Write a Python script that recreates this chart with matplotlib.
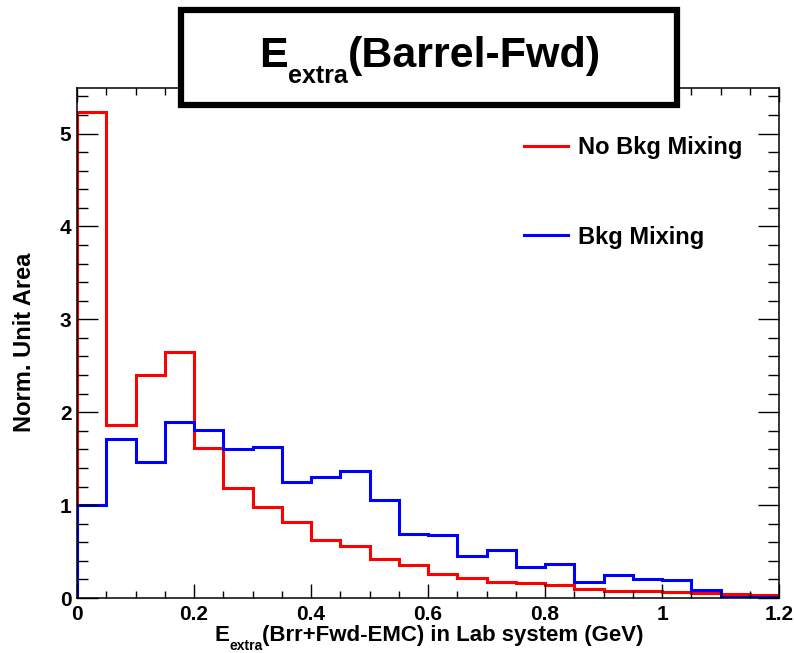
import numpy as np
import matplotlib
matplotlib.use('Agg')
import matplotlib.pyplot as plt
from matplotlib.patches import Rectangle
from matplotlib.ticker import MultipleLocator, FormatStrFormatter

plt.rcParams['font.family'] = 'Liberation Sans'
plt.rcParams['font.weight'] = 'bold'

W, H = 794, 653

# bin edges: 24 bins of 0.05 GeV
bin_edges = np.linspace(0.0, 1.2, 25)

# normalised contents
no_bkg_mixing = [5.23, 1.86, 2.40, 2.65, 1.61, 1.18, 0.98, 0.82, 0.62, 0.56,
                 0.42, 0.35, 0.26, 0.21, 0.17, 0.16, 0.14, 0.10, 0.075, 0.075,
                 0.06, 0.055, 0.04, 0.03]
bkg_mixing = [1.0, 1.71, 1.46, 1.89, 1.81, 1.60, 1.63, 1.25, 1.30, 1.37,
              1.06, 0.69, 0.68, 0.45, 0.52, 0.33, 0.37, 0.175, 0.245, 0.205,
              0.19, 0.09, 0.012, 0.012]

fig = plt.figure(figsize=(W / 100, H / 100), dpi=100)
ax = fig.add_axes([77 / W, 55 / H, 702 / W, 510 / H])

ax.stairs(no_bkg_mixing, bin_edges, color='#ff0000', lw=2.2, label='No Bkg Mixing')
ax.stairs(bkg_mixing, bin_edges, color='#0000ff', lw=2.2, label='Bkg Mixing')

ax.set_xlim(0, 1.2)
ax.set_ylim(0, 5.49)
ax.xaxis.set_major_locator(MultipleLocator(0.2))
ax.xaxis.set_minor_locator(MultipleLocator(0.05))
ax.yaxis.set_major_locator(MultipleLocator(1))
ax.yaxis.set_minor_locator(MultipleLocator(0.2))
ax.xaxis.set_major_formatter(FormatStrFormatter('%g'))
ax.tick_params(which='both', direction='in', top=True, right=True,
               labelsize=15, width=1.0)
ax.tick_params(axis='x', which='major', length=10, pad=5)
ax.tick_params(axis='x', which='minor', length=5)
ax.tick_params(axis='y', which='major', length=15, pad=4)
ax.tick_params(axis='y', which='minor', length=8)
for s in ax.spines.values():
    s.set_linewidth(1.1)

ax.legend(loc='upper left', bbox_to_anchor=(0.637, 0.905), frameon=False,
          fontsize=17, labelspacing=2.8, handlelength=1.85, handletextpad=0.45,
          borderpad=0, borderaxespad=0)

renderer = fig.canvas.get_renderer()


def put_pieces(pieces, x_px, base_px, center=False, zorder=3):
    # pieces: (text, fontsize, drop in px below baseline)
    texts, widths = [], []
    for s, size, drop in pieces:
        t = fig.text(0, 0, s, fontsize=size, ha='left', va='baseline', zorder=zorder)
        widths.append(t.get_window_extent(renderer).width)
        texts.append((t, drop))
    x = x_px - sum(widths) / 2 if center else x_px
    for (t, drop), w in zip(texts, widths):
        t.set_position((x / W, 1 - (base_px + drop) / H))
        x += w


put_pieces([('E', 16, 0), ('extra', 10, 9),
            ('(Brr+Fwd-EMC) in Lab system (GeV)', 16, 0)], 429, 641, center=True)
fig.text(25 / W, 1 - 342 / H, 'Norm. Unit Area', fontsize=17,
         rotation=90, ha='center', va='center')

# title box
fig.patches.append(Rectangle((181 / W, 1 - 105 / H), 496 / W, 95 / H,
                             transform=fig.transFigure, facecolor='white',
                             edgecolor='black', lw=4.5, zorder=5))
put_pieces([('E', 31, 0), ('extra', 18, 16), ('(Barrel-Fwd)', 31, 0)],
           430, 67, center=True, zorder=6)

fig.savefig('out.png', dpi=100)
